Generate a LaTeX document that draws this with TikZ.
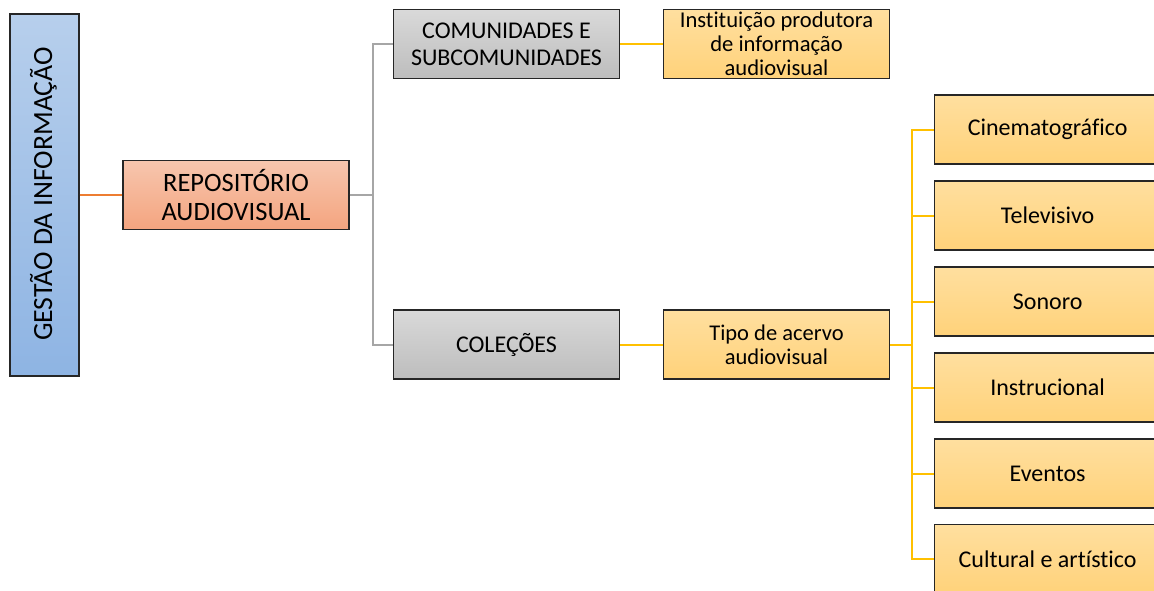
\documentclass[tikz,border=0pt]{standalone}
\usepackage{fontspec}
\setmainfont[Ligatures=NoCommon]{Carlito}
\definecolor{bdr}{HTML}{262626}
\definecolor{blueT}{HTML}{B7CFEC}
\definecolor{blueB}{HTML}{8EB4E3}
\definecolor{salT}{HTML}{F7C6AE}
\definecolor{salB}{HTML}{F4A47F}
\definecolor{grT}{HTML}{D9D9D9}
\definecolor{grB}{HTML}{BDBDBD}
\definecolor{yeT}{HTML}{FFDF9F}
\definecolor{yeB}{HTML}{FFD27A}
\definecolor{lnOr}{HTML}{ED7D31}
\definecolor{lnGr}{HTML}{A6A6A6}
\definecolor{lnYe}{HTML}{FFC000}
\begin{document}
\begin{tikzpicture}[x=1pt,y=1pt,
  box/.style={draw=bdr, line width=1.3pt, inner sep=0pt, align=center,
    font=\fontsize{24}{27}\selectfont, text=black},
  bluebox/.style={box, top color=blueT, bottom color=blueB},
  salbox/.style={box, top color=salT, bottom color=salB},
  graybox/.style={box, top color=grT, bottom color=grB},
  yelbox/.style={box, top color=yeT, bottom color=yeB},
  wide/.style={minimum width=226pt, minimum height=69pt},
  rbox/.style={yelbox, minimum width=226pt, minimum height=69pt, anchor=west},
  conn/.style={line width=2pt}
]
\useasboundingbox (0,0) rectangle (1154,-590);
\clip (0,0) rectangle (1154,-590);
\fill[white] (0,0) rectangle (1154,-590);

\node[bluebox, minimum width=69pt, minimum height=362pt] (gest) at (44.5,-195) {};
\node[rotate=90, font=\fontsize{27.8}{30}\selectfont] (gestt) at (43.5,-194) {GESTÃO DA INFORMAÇÃO};

\node[salbox, wide, font=\fontsize{26.5}{29}\selectfont] (rep) at (236,-195) {REPOSITÓRIO\\AUDIOVISUAL};
\node[graybox, wide] (com) at (506.5,-44) {COMUNIDADES E\\SUBCOMUNIDADES};
\node[graybox, wide] (col) at (506.5,-344.5) {COLEÇÕES};
\node[yelbox, wide, font=\fontsize{22.6}{24}\selectfont] (inst) at (776.5,-44) {Instituição produtora\\de informação\\audiovisual};
\node[yelbox, wide, font=\fontsize{22.5}{24}\selectfont] (tipo) at (776.5,-344.5) {Tipo de acervo\\audiovisual};

\node[rbox] (r1) at (934,-129.5) {Cinematográfico};
\node[rbox] (r2) at (934,-215.5) {Televisivo};
\node[rbox] (r3) at (934,-301.5) {Sonoro};
\node[rbox] (r4) at (934,-387.5) {Instrucional};
\node[rbox] (r5) at (934,-473.5) {Eventos};
\node[rbox] (r6) at (934,-559) {Cultural e artístico};

\draw[conn, lnOr] (gest.east) -- (rep.west);
\draw[conn, lnGr] (rep.east) -- ++(23,0) coordinate (gj) |- (com.west);
\draw[conn, lnGr] (gj) |- (col.west);
\draw[conn, lnYe] (com.east) -- (inst.west);
\draw[conn, lnYe] (col.east) -- (tipo.west);
\draw[conn, lnYe] (tipo.east) -- ++(22,0) coordinate (yj);
\foreach \r in {r1,r2,r3,r4,r5,r6}{
  \draw[conn, lnYe] (yj) |- (\r.west);
}
\end{tikzpicture}
\end{document}
